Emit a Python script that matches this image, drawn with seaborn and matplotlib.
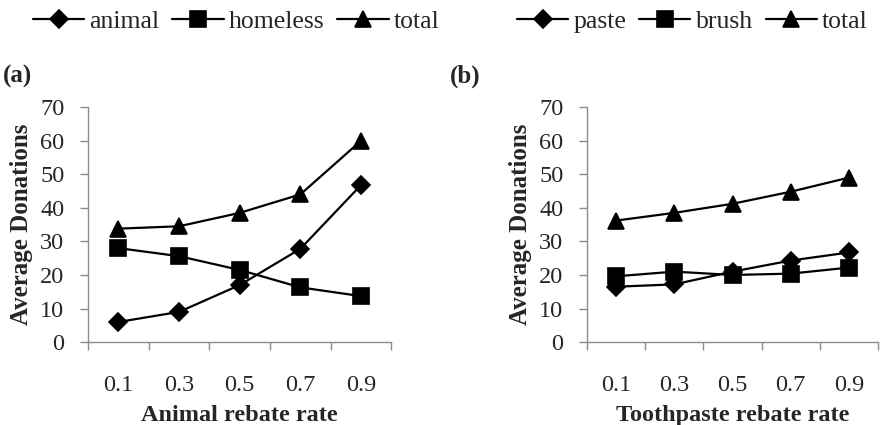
import matplotlib
matplotlib.use("Agg")
import matplotlib.pyplot as plt
import seaborn as sns
import pandas as pd

rates = ["0.1", "0.3", "0.5", "0.7", "0.9"]
animal = [6.0, 9.0, 17.0, 27.8, 46.8]
homeless = [28.0, 25.6, 21.5, 16.3, 13.7]
total_a = [33.8, 34.5, 38.5, 44.0, 60.0]
paste = [16.5, 17.2, 21.0, 24.3, 26.7]
brush = [19.6, 21.0, 20.0, 20.4, 22.2]
total_b = [36.2, 38.5, 41.2, 44.8, 49.0]

series_a = {"animal": animal, "homeless": homeless, "total": total_a}
series_b = {"paste": paste, "brush": brush, "total": total_b}

sns.set_theme(style="white")
SERIF = ["Liberation Serif", "DejaVu Serif"]
plt.rcParams["font.family"] = SERIF

def long_df(series):
    rows = []
    for name, vals in series.items():
        for r, v in zip(rates, vals):
            rows.append({"rate": r, "value": v, "series": name})
    return pd.DataFrame(rows)

fig = plt.figure(figsize=(8.82, 4.25), dpi=100)
axA = fig.add_axes([0.0998, 0.195, 0.344, 0.553])
axB = fig.add_axes([0.6655, 0.195, 0.330, 0.553])

marker_list = ["D", "s", "^"]
msizes = {"D": 9, "s": 11, "^": 11.5}
FS = 17.5
LFS = 18.5
GRAY = "#8c8c8c"

for ax, series, xlabel, tag, legx in [
    (axA, series_a, "Animal rebate rate", "(a)", 0.268),
    (axB, series_b, "Toothpaste rebate rate", "(b)", 0.785),
]:
    df = long_df(series)
    sns.pointplot(data=df, x="rate", y="value", hue="series", order=rates,
                  hue_order=list(series.keys()), palette=["black"] * 3,
                  markers=marker_list, linestyles=["-"] * 3, errorbar=None,
                  dodge=False, ax=ax, linewidth=1.6)
    for line in ax.lines:
        m = line.get_marker()
        if m in msizes:
            line.set_markersize(msizes[m])
    handles, labels = ax.get_legend_handles_labels()
    if ax.get_legend() is not None:
        ax.get_legend().remove()
    for h in handles:
        try:
            m = h.get_marker()
            if m in msizes:
                h.set_markersize(msizes[m])
        except Exception:
            pass
    leg = fig.legend(handles, labels, loc="center", bbox_to_anchor=(legx, 0.95),
                     ncol=3, frameon=False, prop={"family": "Liberation Serif", "size": LFS},
                     handlelength=2.0, handletextpad=0.2, columnspacing=0.5)
    for t in leg.get_texts():
        t.set_fontfamily("Liberation Serif")
        t.set_fontsize(LFS)
    ax.set_ylim(0, 70)
    ax.set_xlim(-0.5, 4.5)
    ax.set_yticks(range(0, 71, 10))
    ax.set_xticks(range(len(rates)))
    ax.set_xticklabels(rates)
    ax.set_xticks([i - 0.5 for i in range(len(rates) + 1)], minor=True)
    ax.tick_params(axis="x", which="major", length=0, pad=24, labelsize=FS)
    ax.tick_params(axis="x", which="minor", length=6, width=1, color=GRAY,
                   direction="out", bottom=True)
    ax.tick_params(axis="y", length=6, width=1, color=GRAY, direction="out",
                   left=True, pad=11, labelsize=FS)
    for s in ["top", "right"]:
        ax.spines[s].set_visible(False)
    for s in ["bottom", "left"]:
        ax.spines[s].set_color(GRAY)
        ax.spines[s].set_linewidth(1.0)
    ax.set_xlabel(xlabel, fontsize=FS, fontweight="bold", labelpad=6)
    ax.set_ylabel("Average Donations", fontsize=18, fontweight="bold", labelpad=5)
    ax.grid(False)
    ax.text(-0.28 if ax is axA else -0.47, 1.13, tag, transform=ax.transAxes,
            fontsize=18, fontweight="bold", ha="left", va="center")

fig.savefig("out.png", dpi=100)
